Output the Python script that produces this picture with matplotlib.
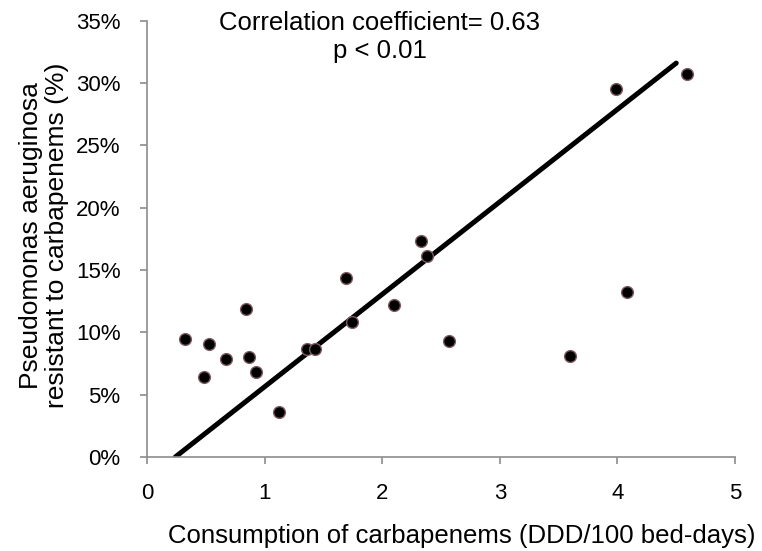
import matplotlib
matplotlib.use("Agg")
import matplotlib.pyplot as plt
from matplotlib.ticker import FuncFormatter

# Data
consumption = [0.32, 0.48, 0.53, 0.67, 0.84, 0.87, 0.93, 1.12, 1.36, 1.43,
               1.69, 1.74, 2.10, 2.33, 2.38, 2.57, 3.60, 3.99, 4.08, 4.59]
resistance = [9.5, 6.4, 9.1, 7.9, 11.9, 8.0, 6.8, 3.6, 8.7, 8.7,
              14.4, 10.8, 12.2, 17.3, 16.1, 9.3, 8.1, 29.5, 13.2, 30.7]
trend_x = [0.24, 4.50]
trend_y = [0.0, 31.6]
x_ticks = [0, 1, 2, 3, 4, 5]
y_ticks = [0, 5, 10, 15, 20, 25, 30, 35]

plt.rcParams['font.family'] = ['Liberation Sans', 'DejaVu Sans']

fig = plt.figure(figsize=(7.62, 5.51), dpi=100)
ax = fig.add_axes([0.193, 0.1706, 0.7716, 0.7918])

ax.plot(trend_x, trend_y, color='black', linewidth=3.6, solid_capstyle='round', zorder=2)
ax.scatter(consumption, resistance, s=72, color='black', edgecolors='#7d5c61',
           linewidths=1.0, zorder=3)

ax.set_xlim(0, 5)
ax.set_ylim(0, 35)
ax.set_xticks(x_ticks)
ax.set_yticks(y_ticks)
ax.yaxis.set_major_formatter(FuncFormatter(lambda v, p: f"{int(v)}%"))

for s in ['top', 'right']:
    ax.spines[s].set_visible(False)
for s in ['left', 'bottom']:
    ax.spines[s].set_color('#8c8c8c')
    ax.spines[s].set_linewidth(1.2)
ax.tick_params(axis='both', direction='out', length=5, width=1.2, color='#8c8c8c',
               labelsize=16, labelcolor='black')
ax.tick_params(axis='y', pad=14)
ax.tick_params(axis='x', pad=14)

ax.set_xlabel('Consumption of carbapenems (DDD/100 bed-days)', fontsize=18.5, va='center')
ax.xaxis.set_label_coords(0.535, -0.181)
ax.set_ylabel('Pseudomonas aeruginosa\nresistant to carbapenems (%)', fontsize=19,
              linespacing=1.1, va='center')
ax.yaxis.set_label_coords(-0.176, 0.508)

ax.text(0.396, 0.963, 'Correlation coefficient= 0.63\np < 0.01', transform=ax.transAxes,
        ha='center', va='center', fontsize=18.5, linespacing=1.2)

fig.savefig('out.png', dpi=100)
